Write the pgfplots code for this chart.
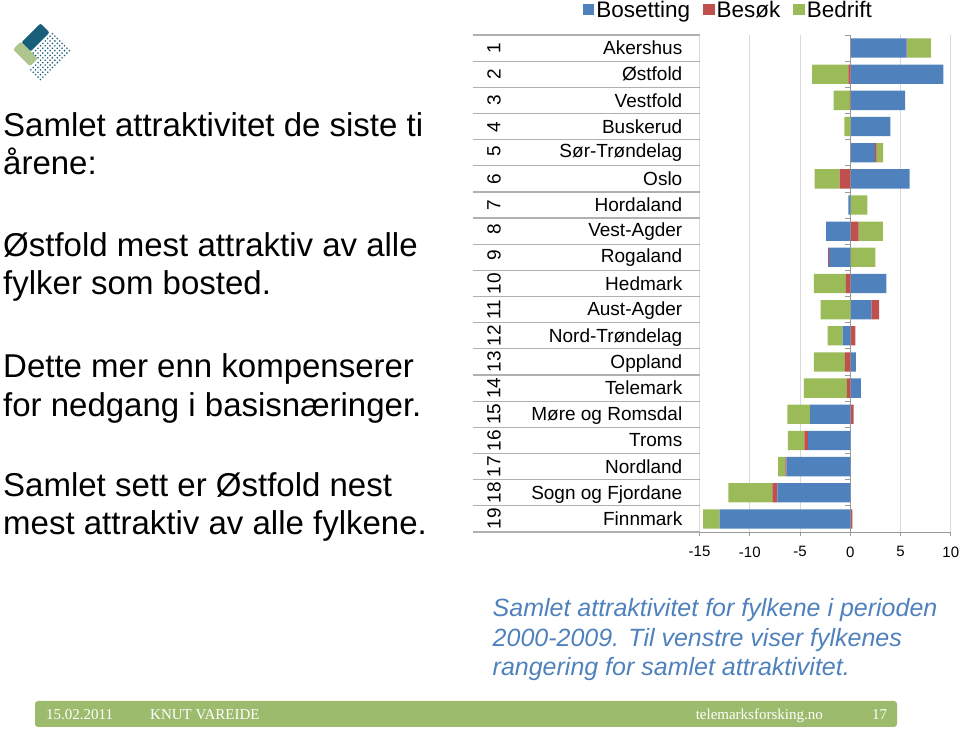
\documentclass[border=0pt]{standalone}
\usepackage{pgfplots}
\pgfplotsset{compat=1.18}
\usepackage{pgfplotstable}
\usepackage{graphicx}
\usepackage{fontspec}
\setmainfont{Liberation Sans}
\newfontfamily\footfont{Liberation Serif}
\definecolor{cBos}{HTML}{4F81BD}
\definecolor{cBes}{HTML}{C0504D}
\definecolor{cBed}{HTML}{9BBB59}
\definecolor{gridc}{HTML}{D9D9D9}
\definecolor{axc}{HTML}{9A9A9A}
\definecolor{tabc}{HTML}{B0B0B0}
\definecolor{capc}{HTML}{4F81BD}
\definecolor{footc}{HTML}{9CBB6C}
\definecolor{logoteal}{HTML}{1A5F7A}
\definecolor{logogreen}{HTML}{AFC58E}

% r = rank, p = vertical position (rank 1 at the top)
% positive parts (stacked to the right of 0)
\pgfplotstableread{
r p bos bes bed
1 19 5.6 0.07 2.35
2 18 9.25 0 0
3 17 5.45 0 0
4 16 4.0 0 0
5 15 2.45 0.17 0.65
6 14 5.9 0 0
7 13 0 0 1.7
8 12 0 0.83 2.4
9 11 0 0 2.5
10 10 3.6 0 0
11 9 2.1 0.76 0
12 8 0 0.5 0
13 7 0.56 0 0
14 6 1.06 0 0
15 5 0 0.33 0
16 4 0 0 0
17 3 0 0 0
18 2 0 0 0
19 1 0 0.2 0
}\postab
% negative parts (stacked to the left of 0)
\pgfplotstableread{
r p bos bes bed
1 19 0 0 0
2 18 0 -0.2 -3.6
3 17 0 -0.05 -1.6
4 16 0 0 -0.6
5 15 0 0 0
6 14 0 -1.05 -2.5
7 13 -0.2 0 0
8 12 -2.4 0 0
9 11 -2.1 -0.1 0
10 10 0 -0.43 -3.2
11 9 0 0 -2.95
12 8 -0.76 0 -1.5
13 7 0 -0.53 -3.1
14 6 0 -0.33 -4.3
15 5 -4.0 0 -2.25
16 4 -4.2 -0.36 -1.66
17 3 -6.37 -0.1 -0.7
18 2 -7.26 -0.5 -4.38
19 1 -13.0 0 -1.63
}\negtab

\newcommand\lab[2]{\makebox[195pt]{\rotatebox[origin=c]{90}{#1}\hfill #2}}

\pgfplotsset{common/.style={
  scale only axis, width=251.3pt, height=497pt,
  at={(699.5pt,198pt)}, anchor=south west,
  xmin=-15, xmax=10, ymin=0.5, ymax=19.5,
  xbar stacked, bar width=19.3pt, clip=false}}

\begin{document}
\begin{tikzpicture}[x=1pt,y=1pt]
\useasboundingbox (0,0) rectangle (960,730);

% logo
\begin{scope}[shift={(0,730)}, yscale=-1]
\fill[logoteal, rounded corners=2pt] (49.65,32.55) -- (40.45,23.35) -- (21.35,42.45) -- (30.55,51.65) -- cycle;
\fill[logogreen, rounded corners=2pt] (37.9,58.6) -- (30.1,66.4) -- (13.1,49.4) -- (20.9,41.6) -- cycle;
\foreach \a in {-14,-10.6,...,13.5} \foreach \b in {61,64.4,...,86.5}
  \fill[logoteal] ({0.7071*(\a+\b)},{0.7071*(\b-\a)}) circle (0.9);
\foreach \a in {-27.6,-24.2,...,-16} \foreach \b in {71.2,74.6,...,86.5}
  \fill[logoteal] ({0.7071*(\a+\b)},{0.7071*(\b-\a)}) circle (0.9);
\end{scope}

% left text
\begin{scope}[every node/.style={anchor=base west, inner sep=0pt, font=\fontsize{33}{38}\selectfont}]
\node at (3,593) {Samlet attraktivitet de siste ti};
\node at (3,555) {årene:};
\node at (3,473) {Østfold mest attraktiv av alle};
\node at (3,435) {fylker som bosted.};
\node at (3,352) {Dette mer enn kompenserer};
\node at (3,313) {for nedgang i basisnæringer.};
\node at (3,233) {Samlet sett er Østfold nest};
\node at (3,195) {mest attraktiv av alle fylkene.};
\end{scope}

% caption
\begin{scope}[every node/.style={anchor=base west, inner sep=0pt, text=capc, font=\fontsize{25}{30}\selectfont\itshape}]
\node at (492.5,113) {Samlet attraktivitet for fylkene i perioden};
\node at (492.5,83) {2000-2009. Til venstre viser fylkenes};
\node at (492.5,54) {rangering for samlet attraktivitet.};
\end{scope}

% footer
\fill[footc, rounded corners=3pt] (35,3) rectangle (897,29);
\begin{scope}[every node/.style={inner sep=0pt, text=white, font=\footfont\fontsize{15}{15}\selectfont}]
\node[anchor=base west] at (46,10.5) {15.02.2011};
\node[anchor=base west] at (150,10.5) {KNUT VAREIDE};
\node[anchor=base east] at (823,10.5) {telemarksforsking.no};
\node[anchor=base west] at (872,10.5) {17};
\end{scope}

% chart: positive parts, grid, labels, legend
\begin{axis}[common,
  axis x line*=bottom, axis y line*=left,
  x axis line style={draw=axc, line width=0.8pt},
  y axis line style={draw=gridc, line width=0.8pt},
  xtick={-15,-10,...,10}, xmajorgrids,
  grid style={gridc, line width=0.8pt},
  tick align=outside,
  xtick style={draw=axc, line width=0.8pt},
  major tick length=4pt,
  ytick={1,...,19}, ytick style={draw=none},
  yticklabels={\lab{19}{Finnmark},\lab{18}{Sogn og Fjordane},\lab{17}{Nordland},\lab{16}{Troms},\lab{15}{Møre og Romsdal},\lab{14}{Telemark},\lab{13}{Oppland},\lab{12}{Nord-Trøndelag},\lab{11}{Aust-Agder},\lab{10}{Hedmark},\lab{9}{Rogaland},\lab{8}{Vest-Agder},\lab{7}{Hordaland},\lab{6}{Oslo},\lab{5}{Sør-Trøndelag},\lab{4}{Buskerud},\lab{3}{Vestfold},\lab{2}{Østfold},\lab{1}{Akershus}},
  yticklabel style={anchor=east, inner sep=0pt, xshift=-13pt, font=\fontsize{19}{19}\selectfont},
  xticklabel style={font=\fontsize{15}{15}\selectfont, yshift=-7pt},
  /pgf/number format/assume math mode=true,
  legend columns=3,
  legend style={at={(0.115,1.0503)}, anchor=center, draw=none, fill=none,
    font=\fontsize{22.5}{22.5}\selectfont,
    /tikz/every even column/.append style={column sep=11pt}},
  legend image code/.code={\fill[#1] (0pt,-5.5pt) rectangle (11.5pt,6pt);},
]
\addplot[fill=cBos, draw=none] table[x=bos, y=p] {\postab};
\addplot[fill=cBes, draw=none] table[x=bes, y=p] {\postab};
\addplot[fill=cBed, draw=none] table[x=bed, y=p] {\postab};
\legend{Bosetting,Besøk,Bedrift}
\pgfplotsinvokeforeach{0.5,1.5,...,19.5}{\draw[tabc, line width=1.2pt] (axis cs:-15,#1) -- ++(-227pt,0pt);}
\end{axis}

% chart: negative parts and zero axis
\begin{axis}[common,
  axis x line=none, axis y line*=middle,
  y axis line style={draw=axc, line width=0.8pt},
  ytick={0.5,1.5,...,19.5}, yticklabels={},
  tick align=outside, major tick length=5pt,
  ytick style={draw=axc, line width=0.8pt},
]
\addplot[fill=cBos, draw=none] table[x=bos, y=p] {\negtab};
\addplot[fill=cBes, draw=none] table[x=bes, y=p] {\negtab};
\addplot[fill=cBed, draw=none] table[x=bed, y=p] {\negtab};
\end{axis}
\end{tikzpicture}
\end{document}
